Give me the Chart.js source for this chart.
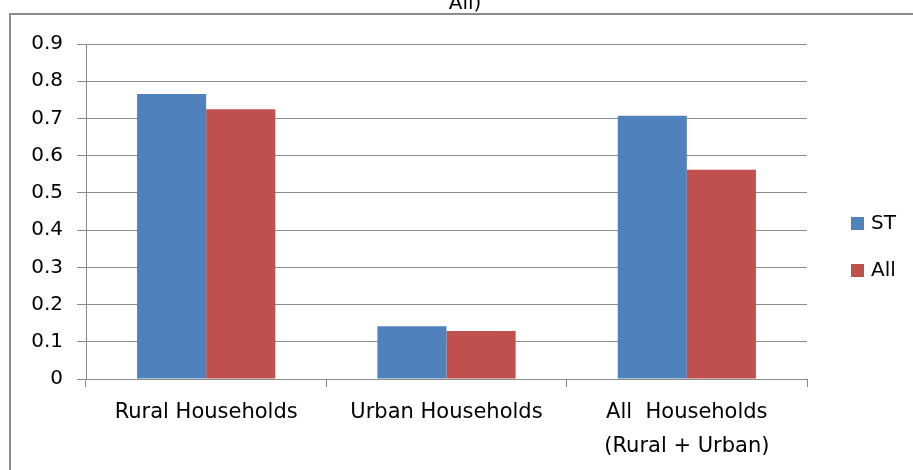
<!DOCTYPE html>
<html>
<head>
<meta charset="utf-8">
<script src="https://cdn.jsdelivr.net/npm/chart.js@4"></script>
<style>
  html, body { margin: 0; padding: 0; background: #fff; overflow: hidden; }
  #wrap { position: relative; width: 913px; height: 470px; }
  #frame {
    position: absolute; left: 9px; top: 13px; width: 930px; height: 500px;
    border-left: 2px solid #8c8c8c; border-top: 2px solid #8c8c8c;
    pointer-events: none;
  }
</style>
</head>
<body>
<div id="wrap">
  <canvas id="chart" width="913" height="470"></canvas>
  <div id="frame"></div>
</div>
<script>
// ───── data ─────────────────────────────────────────────────────────────────
const categories = ['Rural Households', 'Urban Households', ['All  Households', '(Rural + Urban)']];
const seriesNames = ['ST', 'All'];
const stValues = [0.766, 0.142, 0.707];
const allValues = [0.725, 0.129, 0.562];
const yTicks = [0, 0.1, 0.2, 0.3, 0.4, 0.5, 0.6, 0.7, 0.8, 0.9];

const BLUE = '#4f81bd';
const RED = '#c0504d';
const GRID = '#8c8c8c';
const FONT = "'DejaVu Sans', sans-serif";

// Cut-off title fragment at the very top + right-hand legend.
const extras = {
  id: 'extras',
  afterDraw(chart) {
    const ctx = chart.ctx;
    ctx.save();
    ctx.fillStyle = '#000';
    ctx.font = `20px ${FONT}`;
    ctx.textAlign = 'center';
    ctx.textBaseline = 'alphabetic';
    ctx.fillText('All)', 465, 9);

    ctx.textAlign = 'left';
    ctx.textBaseline = 'middle';
    chart.data.datasets.forEach((ds, i) => {
      const y = 223 + i * 47;
      ctx.fillStyle = ds.backgroundColor;
      ctx.fillRect(851, y - 6, 13, 13);
      ctx.fillStyle = '#000';
      ctx.fillText(ds.label, 871, y + 1);
    });
    ctx.restore();
  },
};

new Chart(document.getElementById('chart'), {
  type: 'bar',
  data: {
    labels: categories,
    datasets: [
      { label: seriesNames[0], data: stValues, backgroundColor: BLUE },
      { label: seriesNames[1], data: allValues, backgroundColor: RED },
    ],
  },
  options: {
    responsive: false,
    animation: false,
    layout: { padding: { left: 0, right: 106, top: 44, bottom: 0 } },
    datasets: { bar: { categoryPercentage: 0.575, barPercentage: 1 } },
    plugins: {
      legend: { display: false },
      tooltip: { enabled: false },
    },
    scales: {
      x: {
        afterFit(scale) { scale.height = 91; },
        border: { color: GRID, width: 1 },
        grid: { offset: true, drawOnChartArea: false, drawTicks: true, tickLength: 8, color: GRID },
        ticks: { color: '#000', padding: 9, font: { family: FONT, size: 21, lineHeight: 1.62 } },
      },
      y: {
        min: 0,
        max: 0.9,
        afterFit(scale) { scale.width = 86; },
        afterBuildTicks(scale) { scale.ticks = yTicks.map((v) => ({ value: v })); },
        border: { color: GRID, width: 1 },
        grid: { color: GRID, tickLength: 9, drawTicks: true },
        ticks: {
          color: '#000',
          padding: 14,
          font: { family: FONT, size: 20 },
          callback: (v) => (v === 0 ? '0' : v.toFixed(1)),
        },
      },
    },
  },
  plugins: [extras],
});
</script>
</body>
</html>
